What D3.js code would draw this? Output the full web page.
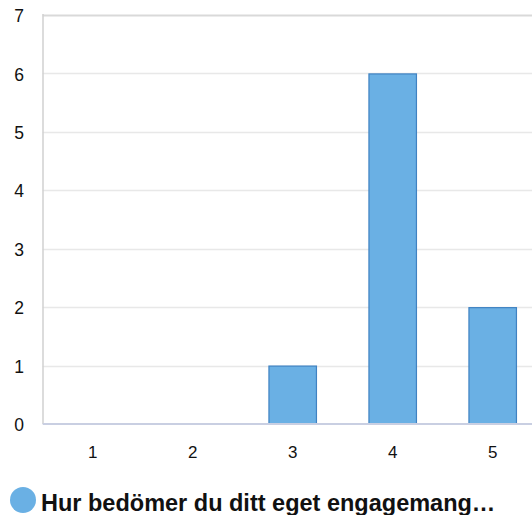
<!DOCTYPE html>
<html>
<head>
<meta charset="utf-8">
<script src="https://cdn.jsdelivr.net/npm/d3@7"></script>
<style>
  body { margin: 0; background: #fff; }
  svg { display: block; font-family: "Liberation Sans", Arial, sans-serif; }
</style>
</head>
<body>
<div id="chart"></div>
<script>
const categories = ["1", "2", "3", "4", "5"];
const values = [0, 0, 1, 6, 2];
const yTicks = [0, 1, 2, 3, 4, 5, 6, 7];
const seriesName = "Hur bedömer du ditt eget engagemang…";

const width = 532, height = 515;
const plotLeft = 42.7, plotTop = 15, plotBottom = 424;

const svg = d3.select("#chart").append("svg")
  .attr("width", width)
  .attr("height", height);

const x = d3.scaleBand()
  .domain(categories)
  .range([plotLeft, plotLeft + 500])
  .paddingInner(0.515)
  .paddingOuter(0.2575);

const y = d3.scaleLinear()
  .domain([0, 7])
  .range([plotBottom, plotTop]);

// Gridlines
svg.append("g")
  .selectAll("line")
  .data(yTicks.filter(d => d > 0))
  .join("line")
  .attr("x1", plotLeft)
  .attr("x2", width)
  .attr("y1", d => Math.round(y(d)) + 0.5)
  .attr("y2", d => Math.round(y(d)) + 0.5)
  .attr("stroke", d => d === 7 ? "#d9d9d9" : "#e8e8e8")
  .attr("stroke-width", d => d === 7 ? 2 : 1.5);

// Left axis line
svg.append("line")
  .attr("x1", 43).attr("x2", 43)
  .attr("y1", plotTop - 1).attr("y2", plotBottom)
  .attr("stroke", "#d0d0d0")
  .attr("stroke-width", 1.5);

// Y labels
svg.append("g")
  .selectAll("text")
  .data(yTicks)
  .join("text")
  .attr("x", 24)
  .attr("y", d => y(d) + 1)
  .attr("dy", "0.35em")
  .attr("text-anchor", "end")
  .attr("font-size", "17.5px")
  .attr("fill", "#111")
  .text(d => d);

// Bars
svg.append("g")
  .selectAll("rect")
  .data(values.map((v, i) => ({ cat: categories[i], v })).filter(d => d.v > 0))
  .join("rect")
  .attr("x", d => x(d.cat) + 0.5)
  .attr("y", d => y(d.v) + 0.5)
  .attr("width", x.bandwidth() - 1)
  .attr("height", d => y(0) - y(d.v) - 0.5)
  .attr("fill", "#6ab0e4")
  .attr("stroke", "#3f82c2")
  .attr("stroke-width", 1.2);

// Baseline
svg.append("line")
  .attr("x1", plotLeft)
  .attr("x2", width)
  .attr("y1", plotBottom)
  .attr("y2", plotBottom)
  .attr("stroke", "#c9cfe2")
  .attr("stroke-width", 2);

// X labels
svg.append("g")
  .selectAll("text")
  .data(categories)
  .join("text")
  .attr("x", d => x(d) + x.bandwidth() / 2)
  .attr("y", 452)
  .attr("dy", "0.35em")
  .attr("text-anchor", "middle")
  .attr("font-size", "17px")
  .attr("fill", "#111")
  .text(d => d);

// Legend
svg.append("circle")
  .attr("cx", 23)
  .attr("cy", 500)
  .attr("r", 13)
  .attr("fill", "#6ab0e4");

svg.append("text")
  .attr("x", 41)
  .attr("y", 511)
  .attr("font-size", "23.5px")
  .attr("font-weight", "bold")
  .attr("fill", "#111")
  .text(seriesName);
</script>
</body>
</html>
